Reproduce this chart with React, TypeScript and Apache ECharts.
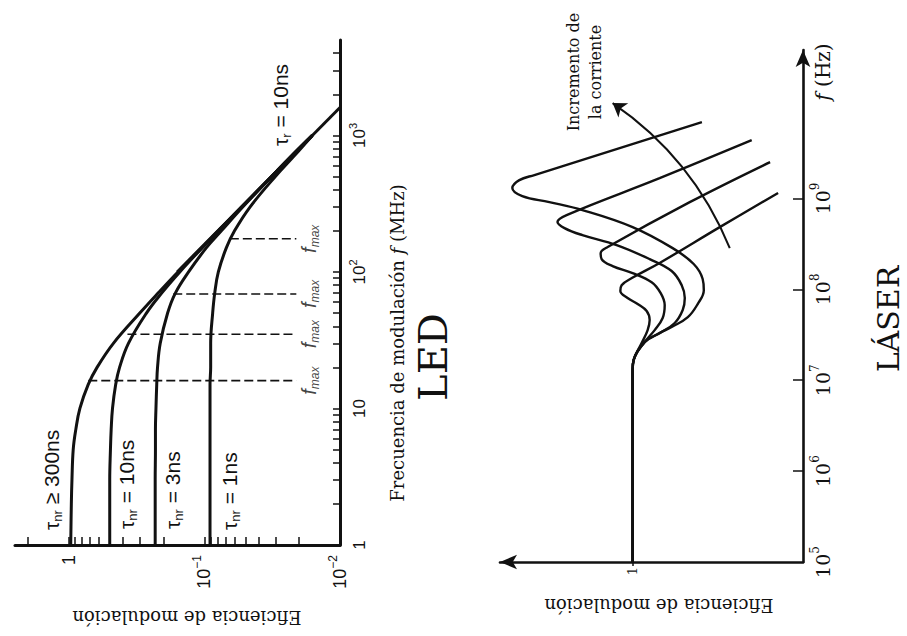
import React, { useEffect, useRef } from 'react';
import * as echarts from 'echarts';

const ink = '#111111';
const sans = "'Liberation Sans', Arial, Helvetica, sans-serif";
const serif = "'DejaVu Serif', 'Liberation Serif', serif";

// ---------------- LED panel (frequency in MHz, modulation efficiency) ----------------
const ledFreqMHz = [1, 2, 3, 5, 7, 10, 15, 20, 30, 50, 70, 100, 150, 200, 300, 500, 700, 1000];
const ledEffTauNr300 = [0.97, 0.96, 0.95, 0.93, 0.89, 0.83, 0.72, 0.62, 0.47, 0.30, 0.22, 0.157, 0.105, 0.079, 0.053, 0.032, 0.023, 0.016];
const ledEffTauNr10 = [0.50, 0.50, 0.50, 0.494, 0.488, 0.477, 0.452, 0.423, 0.364, 0.268, 0.207, 0.152, 0.104, 0.079, 0.053, 0.032, 0.023, 0.016];
const ledEffTauNr3 = [0.231, 0.231, 0.231, 0.230, 0.230, 0.228, 0.225, 0.222, 0.212, 0.187, 0.164, 0.131, 0.097, 0.075, 0.052, 0.032, 0.023, 0.016];
const ledEffTauNr1 = [0.091, 0.091, 0.091, 0.091, 0.091, 0.091, 0.091, 0.090, 0.090, 0.087, 0.084, 0.079, 0.069, 0.060, 0.046, 0.030, 0.022, 0.016];
const ledAsymptoteFreqMHz = [100, 1600];
const ledAsymptoteEff = [0.159, 0.01];
const fmaxFreqMHz = [16, 35, 69, 175];
const fmaxCurveEff = [0.72, 0.37, 0.17, 0.065];
const fmaxFootEff = 0.021;

const ledFreqTicks = [2, 3, 4, 5, 6, 7, 8, 9, 10, 20, 30, 40, 50, 60, 70, 80, 90, 100, 200, 300, 400, 500, 600, 700, 800, 900, 1000, 2000, 3000, 4000];
const ledFreqLabels = [1, 10, 100, 1000];
const ledEffTicks = [2, 1, 0.9, 0.8, 0.7, 0.6, 0.5, 0.4, 0.3, 0.2, 0.1, 0.09, 0.08, 0.07, 0.06, 0.05, 0.04, 0.03, 0.02];
const ledEffLabels = [1, 0.1, 0.01];

// ---------------- LÁSER panel (frequency in Hz, efficiency in arbitrary log units) ----------------
const laserTrunkFreq = [1e5, 6e6, 1.29e7, 1.67e7];
const laserTrunkEff = [1, 1, 1, 0.986];
const laserC1Freq = [2.63e7, 3.3e7, 3.85e7, 4.95e7, 6.89e7, 9.8e7, 1.3e8, 1.9e8, 2.84e8, 4.84e8, 7.45e8, 9.12e8, 1.06e9, 1.3e9, 1.59e9, 1.81e9, 6.92e9];
const laserC1Eff = [0.85, 0.694, 0.59, 0.474, 0.415, 0.382, 0.388, 0.438, 0.582, 1.0, 1.97, 3.08, 4.44, 5.08, 4.62, 3.77, 0.392];
const laserC2Freq = [2.63e7, 3.3e7, 4.26e7, 5.92e7, 8.02e7, 1.11e8, 1.59e8, 2.15e8, 3.07e8, 3.95e8, 4.72e8, 5.5e8, 6.56e8, 1.67e9, 4.38e9];
const laserC2Eff = [0.85, 0.694, 0.566, 0.508, 0.494, 0.515, 0.59, 0.794, 1.24, 1.97, 2.51, 2.76, 2.44, 0.694, 0.2];
const laserC3Freq = [2.63e7, 3.56e7, 4.83e7, 6.72e7, 9.1e7, 1.2e8, 1.51e8, 1.8e8, 2.15e8, 2.5e8, 2.92e8, 9.1e8, 2.51e9];
const laserC3Eff = [0.85, 0.742, 0.666, 0.648, 0.684, 0.773, 1.0, 1.31, 1.52, 1.54, 1.40, 0.462, 0.156];
const laserC4Freq = [2.56e7, 3.56e7, 4.59e7, 5.77e7, 6.89e7, 8.02e7, 9.57e7, 1.11e8, 1.33e8, 1.95e8, 4.84e8, 1.15e9];
const laserC4Eff = [0.885, 0.816, 0.794, 0.827, 0.934, 1.07, 1.18, 1.16, 1.01, 0.694, 0.308, 0.14];
const currentArrowFrom = [0.269, 2.84e8];
const currentArrowTo = [1.31, 1.12e10];

const laserFreqTicks = [1e6, 1e7, 1e8, 1e9];
const laserFreqLabels = [1e5, 1e6, 1e7, 1e8, 1e9];
const laserEffLabels = [1];

const pairs = (effs: number[], freqs: number[]) => effs.map((e, i) => [e, freqs[i]]);
const exp10 = (v: number) => Math.round(Math.log(v) / Math.LN10);

const supRich = (family: string, size: number) => ({
  b: { fontFamily: family, fontSize: size, color: ink, lineHeight: size + 8 },
  s: { fontFamily: family, fontSize: Math.round(size * 0.65), color: ink, verticalAlign: 'top', lineHeight: Math.round(size * 0.65) },
});

function vText(x: number, y: number, text: string, family: string, size: number, align: string, rich?: any, extra?: any) {
  return {
    type: 'text',
    x,
    y,
    rotation: Math.PI / 2,
    style: Object.assign(
      {
        text,
        fontFamily: family,
        fontSize: size,
        fill: ink,
        textAlign: align,
        textVerticalAlign: 'middle',
        rich,
      },
      extra || {}
    ),
  };
}

function buildOption() {
  const lineBase = (name: string, data: number[][], xi: number, width: number) => ({
    name,
    type: 'line',
    xAxisIndex: xi,
    yAxisIndex: xi,
    data,
    smooth: 0.4,
    symbol: 'none',
    lineStyle: { color: ink, width },
    z: 3,
  });

  const tauRich = {
    sub: { fontFamily: sans, fontSize: 13, color: ink, verticalAlign: 'bottom', lineHeight: 13 },
  };

  const series: any[] = [
    lineBase('τnr ≥ 300ns', pairs(ledEffTauNr300, ledFreqMHz), 0, 3),
    lineBase('τnr = 10ns', pairs(ledEffTauNr10, ledFreqMHz), 0, 3),
    lineBase('τnr = 3ns', pairs(ledEffTauNr3, ledFreqMHz), 0, 3),
    lineBase('τnr = 1ns', pairs(ledEffTauNr1, ledFreqMHz), 0, 3),
    Object.assign(lineBase('τr = 10ns', pairs(ledAsymptoteEff, ledAsymptoteFreqMHz), 0, 3), { smooth: false }),
  ];

  fmaxFreqMHz.forEach((f, i) => {
    series.push({
      name: 'fmax ' + i,
      type: 'line',
      xAxisIndex: 0,
      yAxisIndex: 0,
      data: [
        [fmaxCurveEff[i], f],
        [fmaxFootEff, f],
      ],
      symbol: 'none',
      lineStyle: { color: ink, width: 1.6, type: [9, 4] },
      z: 2,
    });
  });

  series.push({
    name: 'fmax labels',
    type: 'scatter',
    xAxisIndex: 0,
    yAxisIndex: 0,
    symbolSize: 0,
    data: fmaxFreqMHz.map((f) => [fmaxFootEff, f]),
    label: {
      show: true,
      position: 'inside',
      rotate: 90,
      offset: [0, 13],
      formatter: '{i|f}{m|max}',
      rich: {
        i: { fontFamily: sans, fontStyle: 'italic', fontSize: 20, color: ink, lineHeight: 24 },
        m: { fontFamily: sans, fontStyle: 'italic', fontSize: 12, color: ink, verticalAlign: 'bottom', lineHeight: 12 },
      },
    },
    z: 4,
  });

  const laserCurves = [
    [laserC1Eff, laserC1Freq],
    [laserC2Eff, laserC2Freq],
    [laserC3Eff, laserC3Freq],
    [laserC4Eff, laserC4Freq],
  ];
  laserCurves.forEach(([effs, freqs], i) => {
    series.push(
      lineBase(
        'láser ' + (i + 1),
        pairs(laserTrunkEff.concat(effs), laserTrunkFreq.concat(freqs)),
        1,
        2.4
      )
    );
  });

  series.push({
    name: 'Incremento de la corriente',
    type: 'lines',
    coordinateSystem: 'cartesian2d',
    xAxisIndex: 1,
    yAxisIndex: 1,
    symbol: ['none', 'arrow'],
    symbolSize: [0, 13],
    lineStyle: { color: ink, width: 2, curveness: -0.15, opacity: 1 },
    data: [{ coords: [currentArrowFrom, currentArrowTo] }],
    z: 4,
  });

  const ledEffFormatter = (v: number) => {
    const e = exp10(v);
    return e === 0 ? '{b|1}' : '{b|10}{s|−' + Math.abs(e) + '}';
  };
  const ledFreqFormatter = (v: number) => {
    const e = exp10(v);
    if (e === 0) return '{b|1}';
    if (e === 1) return '{b|10}';
    return '{b|10}{s|' + e + '}';
  };
  const laserFreqFormatter = (v: number) => '{b|10}{s|' + exp10(v) + '}';

  return {
    animation: false,
    backgroundColor: '#ffffff',
    grid: [
      { left: 15, top: 40, width: 325, height: 505 },
      { left: 500, top: 50, width: 303, height: 512 },
    ],
    xAxis: [
      {
        gridIndex: 0,
        type: 'log',
        logBase: 10,
        inverse: true,
        min: 0.01,
        max: 2.5,
        position: 'bottom',
        axisLine: { show: true, lineStyle: { color: ink, width: 3 } },
        axisTick: { show: true, inside: true, length: 8, lineStyle: { color: ink, width: 1.5 }, customValues: ledEffTicks },
        axisLabel: {
          show: true,
          customValues: ledEffLabels,
          rotate: 90,
          margin: 10,
          formatter: ledEffFormatter,
          rich: supRich(sans, 18),
        },
        splitLine: { show: false },
      },
      {
        gridIndex: 1,
        type: 'log',
        logBase: 10,
        inverse: true,
        min: 0.1,
        max: 6,
        position: 'bottom',
        axisLine: { show: true, symbol: ['arrow', 'none'], symbolSize: [11, 17], lineStyle: { color: ink, width: 2.6 } },
        axisTick: { show: true, inside: false, length: 4, lineStyle: { color: ink, width: 1.5 }, customValues: laserEffLabels },
        axisLabel: {
          show: true,
          customValues: laserEffLabels,
          rotate: 90,
          margin: 5,
          formatter: () => '1',
          fontFamily: serif,
          fontSize: 13,
          color: ink,
        },
        splitLine: { show: false },
      },
    ],
    yAxis: [
      {
        gridIndex: 0,
        type: 'log',
        logBase: 10,
        min: 1,
        max: 5000,
        position: 'right',
        axisLine: { show: true, lineStyle: { color: ink, width: 3 } },
        axisTick: { show: true, inside: true, length: 7, lineStyle: { color: ink, width: 1.5 }, customValues: ledFreqTicks },
        axisLabel: {
          show: true,
          customValues: ledFreqLabels,
          rotate: 90,
          margin: 7,
          formatter: ledFreqFormatter,
          rich: supRich(sans, 17),
        },
        splitLine: { show: false },
      },
      {
        gridIndex: 1,
        type: 'log',
        logBase: 10,
        min: 1e5,
        max: 4.3e10,
        position: 'right',
        axisLine: { show: true, symbol: ['none', 'arrow'], symbolSize: [11, 17], lineStyle: { color: ink, width: 2.6 } },
        axisTick: { show: true, inside: true, length: 10, lineStyle: { color: ink, width: 1.5 }, customValues: laserFreqTicks },
        axisLabel: {
          show: true,
          customValues: laserFreqLabels,
          rotate: 90,
          margin: 6,
          formatter: laserFreqFormatter,
          rich: supRich(serif, 19),
        },
        splitLine: { show: false },
      },
    ],
    series,
    graphic: [
      vText(51, 530, '{t|τ}{sub|nr} ≥ 300ns', sans, 21, 'left', tauRich, { lineHeight: 26 }),
      vText(126, 529, '{t|τ}{sub|nr} = 10ns', sans, 21, 'left', tauRich, { lineHeight: 26 }),
      vText(172, 529, '{t|τ}{sub|nr} = 3ns', sans, 21, 'left', tauRich, { lineHeight: 26 }),
      vText(229, 530, '{t|τ}{sub|nr} = 1ns', sans, 21, 'left', tauRich, { lineHeight: 26 }),
      vText(280, 146, '{t|τ}{sub|r} = 10ns', sans, 21, 'left', tauRich, { lineHeight: 26 }),
      vText(397, 343, 'Frecuencia de modulación {i|f} (MHz)', serif, 18, 'center', {
        i: { fontFamily: serif, fontStyle: 'italic', fontSize: 18, color: ink },
      }),
      vText(433, 357, 'LED', serif, 40, 'center'),
      {
        type: 'text',
        x: 187,
        y: 617,
        rotation: Math.PI,
        style: { text: 'Eficiencia de modulación', fontFamily: serif, fontSize: 18, fill: ink, textAlign: 'center', textVerticalAlign: 'middle' },
      },
      vText(584, 72, 'Incremento de\nla corriente', serif, 16, 'center', undefined, { lineHeight: 22 }),
      vText(823, 72, '{i|f} (Hz)', serif, 20, 'center', {
        i: { fontFamily: serif, fontStyle: 'italic', fontSize: 20, color: ink },
      }),
      vText(888, 319, 'LÁSER', serif, 30, 'center', undefined, { lineHeight: 30 }),
      {
        type: 'text',
        x: 659,
        y: 605,
        rotation: Math.PI,
        style: { text: 'Eficiencia de modulación', fontFamily: serif, fontSize: 18, fill: ink, textAlign: 'center', textVerticalAlign: 'middle' },
      },
    ],
  };
}

export default function App() {
  const ref = useRef<HTMLDivElement>(null);
  useEffect(() => {
    if (!ref.current) return;
    const chart = echarts.init(ref.current, undefined, { renderer: 'svg' });
    chart.setOption(buildOption() as any);
    return () => chart.dispose();
  }, []);
  return (
    <div
      ref={ref}
      style={{ position: 'absolute', left: 0, top: 0, width: 907, height: 636, background: '#ffffff' }}
    />
  );
}
